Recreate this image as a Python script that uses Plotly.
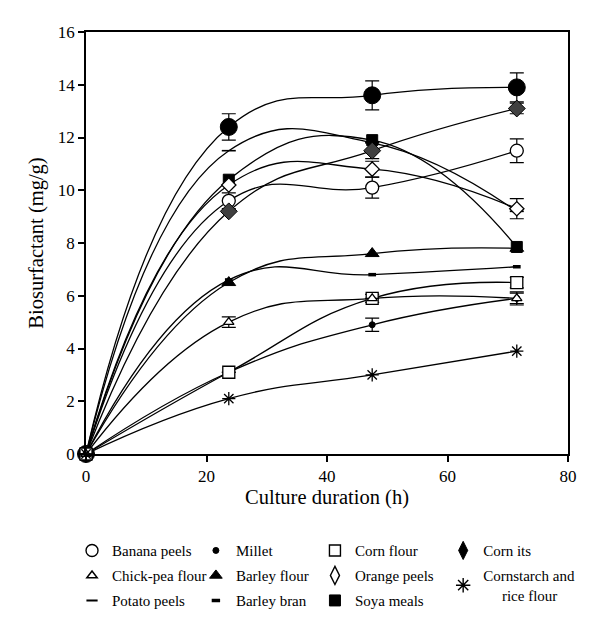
import plotly.graph_objects as go

# ---------------- data ----------------
hours = [0, 23.7, 47.5, 71.5]
x_ticks = [0, 20, 40, 60, 80]
y_ticks = [0, 2, 4, 6, 8, 10, 12, 14, 16]

filled_circle = [0, 12.4, 13.6, 13.9]
filled_circle_err = [None, 0.5, 0.55, 0.55]
banana_peels = [0, 9.6, 10.1, 11.5]
banana_peels_err = [None, 0.3, 0.4, 0.45]
millet = [0, 3.1, 4.9, 5.9]
millet_err = [None, None, 0.25, 0.2]
corn_flour = [0, 3.1, 5.9, 6.5]
corn_flour_err = [None, None, 0.15, 0.2]
corn_its = [0, 9.2, 11.5, 13.1]
corn_its_err = [None, None, 0.3, 0.2]
chick_pea_flour = [0, 5.0, 5.9, 5.9]
chick_pea_flour_err = [None, 0.2, None, 0.25]
barley_flour = [0, 6.5, 7.6, 7.8]
orange_peels = [0, 10.2, 10.8, 9.3]
orange_peels_err = [None, None, 0.3, 0.38]
cornstarch_rice = [0, 2.1, 3.0, 3.9]
potato_peels = [0, 11.5, 11.8, 9.2]
barley_bran = [0, 6.6, 6.8, 7.1]
soya_meals = [0, 10.4, 11.9, 7.85]

FONT = "Liberation Serif"
NB = "\u00a0"

# plot markers: name, values, errors, symbol, size, fill, line width
series = [
    ("filled", filled_circle, filled_circle_err, "circle", 17, "black", 1),
    ("Banana peels", banana_peels, banana_peels_err, "circle", 13, "white", 1.3),
    ("Potato peels", potato_peels, None, "line-ew", 10, "black", 1.6),
    ("Barley flour", barley_flour, None, "triangle-up", 12, "black", 1),
    ("Barley bran", barley_bran, None, "line-ew", 5.5, "black", 3.5),
    ("Soya meals", soya_meals, None, "square", 11, "black", 1),
    ("Corn its", corn_its, corn_its_err, "diamond", 13, "#404040", 1),
    ("Orange peels", orange_peels, orange_peels_err, "diamond", 11, "white", 1.3),
    ("Millet", millet, millet_err, "circle", 6, "black", 1),
    ("Corn flour", corn_flour, corn_flour_err, "square", 12, "white", 1.3),
    ("Chick-pea flour", chick_pea_flour, chick_pea_flour_err, "triangle-up", 9, "white", 1.3),
    ("Cornstarch", cornstarch_rice, None, "asterisk-open", 11, "black", 1.3),
]

# legend entries: label, symbol, size, fill, line width, legend column
legend_items = [
    ("Banana peels", "circle", 12, "white", 1.4, "legend"),
    ("Chick-pea flour", "triangle-up", 9, "white", 1.5, "legend"),
    ("Potato peels", "line-ew", 8, "black", 2, "legend"),
    ("Millet", "circle", 6, "black", 1, "legend2"),
    ("Barley flour", "triangle-up", 11, "black", 1, "legend2"),
    ("Barley bran", "line-ew", 6, "black", 3.5, "legend2"),
    ("Corn flour", "square", 11, "white", 1.4, "legend3"),
    ("Orange peels", "diamond-tall", 13, "white", 1.4, "legend3"),
    ("Soya meals", "square", 11, "black", 1, "legend3"),
    ("Corn its", "diamond-tall", 13, "black", 1, "legend4"),
    ("Cornstarch and<br>" + NB * 5 + "rice flour", "asterisk-open", 12, "black", 1.4, "legend4"),
]

fig = go.Figure()

# curves first
for name, vals, err, sym, size, fill, lw in series:
    fig.add_trace(go.Scatter(
        x=hours, y=vals, mode="lines",
        line=dict(color="black", width=1.3, shape="spline", smoothing=1.3),
        showlegend=False, hoverinfo="skip",
    ))

# markers on top
for name, vals, err, sym, size, fill, lw in series:
    kw = {}
    if err is not None:
        kw["error_y"] = dict(type="data", array=err, visible=True,
                             color="black", thickness=1.2, width=7)
    fig.add_trace(go.Scatter(
        x=hours, y=vals, mode="markers", name=name,
        marker=dict(symbol=sym, size=size, color=fill,
                    line=dict(color="black", width=lw)),
        cliponaxis=False, showlegend=False,
        **kw,
    ))

# legend-only entries
for i, (label, sym, size, fill, lw, legname) in enumerate(legend_items):
    fig.add_trace(go.Scatter(
        x=[None], y=[None], mode="markers", name=label,
        marker=dict(symbol=sym, size=size, color=fill,
                    line=dict(color="black", width=lw)),
        legend=legname, legendgroup="g%d" % i, legendrank=i + 1,
        showlegend=True,
    ))

def leg(x):
    return dict(x=x, y=-0.19, xanchor="left", yanchor="top",
                orientation="v", tracegroupgap=2.5, valign="middle",
                font=dict(family=FONT, size=15, color="black"),
                bgcolor="rgba(0,0,0,0)", borderwidth=0)

axis_common = dict(
    showline=True, linecolor="black", linewidth=1.5, mirror=True,
    ticks="outside", ticklen=6, tickwidth=1.5, tickcolor="black",
    showgrid=False, zeroline=False,
    tickfont=dict(family=FONT, size=17, color="black"),
    title_font=dict(family=FONT, size=20.5, color="black"),
)

fig.update_layout(
    width=592, height=628,
    margin=dict(l=78, r=32, t=24, b=182),
    paper_bgcolor="white", plot_bgcolor="white",
    xaxis=dict(range=[0, 80], tickvals=x_ticks, title=dict(text="Culture duration (h)", standoff=1),
               **axis_common),
    yaxis=dict(range=[0, 16], tickvals=y_ticks, title=dict(text="Biosurfactant (mg/g)", standoff=9),
               **axis_common),
    legend=leg(-0.029),
    legend2=leg(0.228),
    legend3=leg(0.475),
    legend4=leg(0.741),
    showlegend=True,
)

fig.write_html("out.html")
